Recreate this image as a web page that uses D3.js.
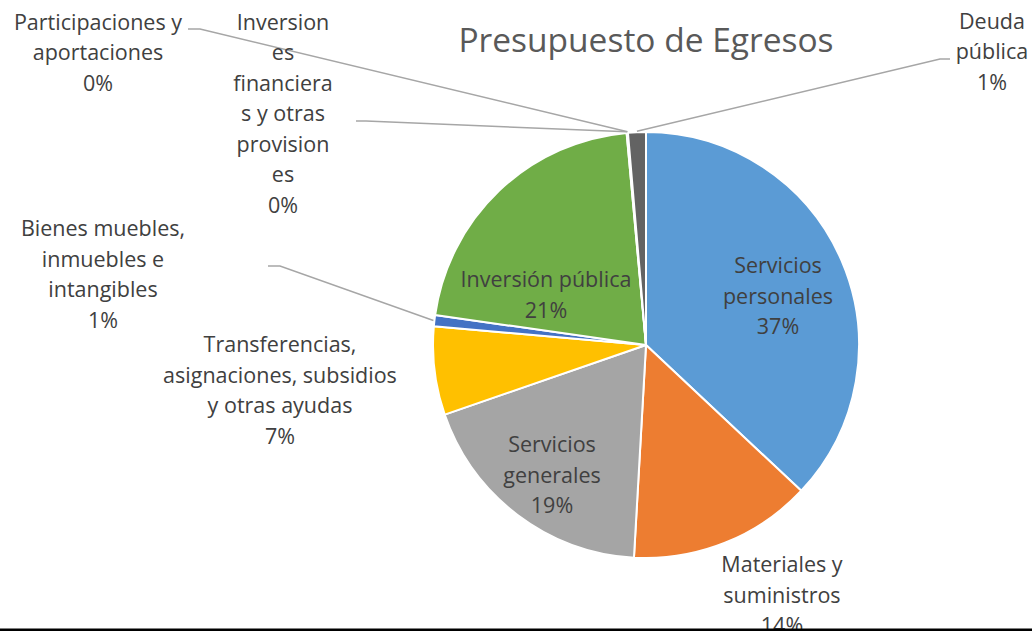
<!DOCTYPE html>
<html>
<head>
<meta charset="utf-8">
<script src="https://cdn.jsdelivr.net/npm/d3@7"></script>
<style>
    body { margin: 0; background: #fff; }
    svg { display: block; font-family: "Open Sans", sans-serif; }
</style>
</head>
<body>
<div id="chart"></div>
<script>
const categories = [
    "Servicios personales",
    "Materiales y suministros",
    "Servicios generales",
    "Transferencias, asignaciones, subsidios y otras ayudas",
    "Bienes muebles, inmuebles e intangibles",
    "Inversión pública",
    "Inversiones financieras y otras provisiones",
    "Participaciones y aportaciones",
    "Deuda pública"
];
const values = [37.0, 13.9, 18.8, 6.7, 0.85, 21.3, 0.05, 0.05, 1.35];
const colors = ["#5B9BD5", "#ED7D31", "#A5A5A5", "#FFC000", "#4472C4", "#70AD47", "#264478", "#9E480E", "#636363"];
const title = "Presupuesto de Egresos";

// wrapped label text, as it appears in the chart
const labelLines = [
    ["Servicios", "personales"],
    ["Materiales y", "suministros"],
    ["Servicios", "generales"],
    ["Transferencias,", "asignaciones, subsidios", "y otras ayudas"],
    ["Bienes muebles,", "inmuebles e", "intangibles"],
    ["Inversión pública"],
    ["Inversion", "es", "financiera", "s y otras", "provision", "es"],
    ["Participaciones y", "aportaciones"],
    ["Deuda", "pública"]
];

const width = 1032, height = 631;
const cx = 646, cy = 345, radius = 213;
const lineHeight = 30.5;

// label placement (first baseline) and leader line start/elbow
const labelLayout = [
    { x: 778, y: 273 },
    { x: 782, y: 572 },
    { x: 552, y: 452 },
    { x: 280, y: 352 },
    { x: 103, y: 236, from: [268, 266], elbow: [280, 266] },
    { x: 546, y: 287 },
    { x: 283, y: 29.5, from: [356, 121], elbow: [366, 121] },
    { x: 98, y: 29.5, from: [188, 29], elbow: [200, 29] },
    { x: 992, y: 28.5, from: [950, 59], elbow: [940, 59] }
];

const svg = d3.select("#chart").append("svg")
    .attr("width", width)
    .attr("height", height);

svg.append("rect")
    .attr("width", width)
    .attr("height", height)
    .attr("fill", "#fff");

svg.append("text")
    .attr("x", cx)
    .attr("y", 52)
    .attr("text-anchor", "middle")
    .attr("font-size", "33.5px")
    .attr("fill", "#595959")
    .text(title);

const total = d3.sum(values);
const data = categories.map((c, i) => ({ name: c, value: values[i], i: i }));

const pie = d3.pie().sort(null).value(d => d.value);
const arcs = pie(data);

const arc = d3.arc().innerRadius(0).outerRadius(radius);
const edge = d3.arc().innerRadius(radius + 1).outerRadius(radius + 1);

const g = svg.append("g")
    .attr("transform", "translate(" + cx + "," + cy + ")");

g.selectAll("path")
    .data(arcs)
    .join("path")
    .attr("d", arc)
    .attr("fill", d => colors[d.data.i])
    .attr("stroke", "#fff")
    .attr("stroke-width", 2)
    .attr("stroke-linejoin", "round");

// leader lines
svg.append("g")
    .selectAll("polyline")
    .data(arcs.filter(d => labelLayout[d.data.i].from))
    .join("polyline")
    .attr("points", d => {
        const l = labelLayout[d.data.i];
        const p = edge.centroid(d);
        return [l.from, l.elbow, [cx + p[0], cy + p[1]]].map(q => q.join(",")).join(" ");
    })
    .attr("fill", "none")
    .attr("stroke", "#A6A6A6")
    .attr("stroke-width", 1.5);

// data labels
const labels = svg.append("g")
    .attr("font-size", "21.5px")
    .attr("fill", "#404040")
    .attr("text-anchor", "middle");

labels.selectAll("text")
    .data(arcs)
    .join("text")
    .attr("x", d => labelLayout[d.data.i].x)
    .attr("y", d => labelLayout[d.data.i].y)
    .each(function (d) {
        const l = labelLayout[d.data.i];
        const lines = labelLines[d.data.i].concat([Math.round(d.data.value / total * 100) + "%"]);
        d3.select(this).selectAll("tspan")
            .data(lines)
            .join("tspan")
            .attr("x", l.x)
            .attr("y", (t, k) => l.y + k * lineHeight)
            .text(t => t);
    });

// frame edge at the bottom of the picture
svg.append("rect")
    .attr("x", 0)
    .attr("y", 628.5)
    .attr("width", width)
    .attr("height", 2.5)
    .attr("fill", "#000");
</script>
</body>
</html>
